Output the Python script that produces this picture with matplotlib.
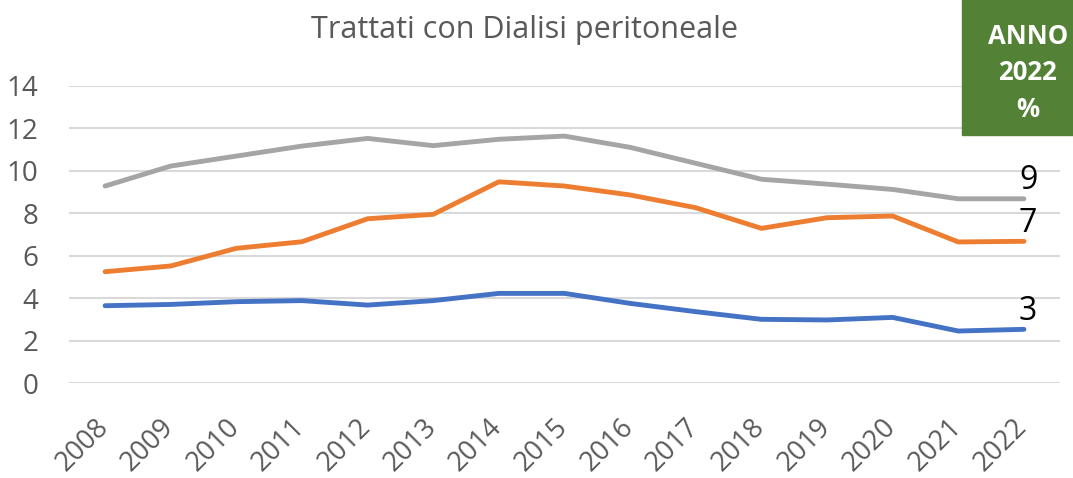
import matplotlib.pyplot as plt
from matplotlib.patches import Rectangle
from matplotlib.transforms import ScaledTranslation

plt.rcParams['font.family'] = ['Open Sans', 'DejaVu Sans']

years = [str(y) for y in range(2008, 2023)]
grey_vals = [9.28, 10.22, 10.69, 11.16, 11.52, 11.18, 11.48, 11.63, 11.10,
             10.35, 9.60, 9.37, 9.12, 8.68, 8.68]
orange_vals = [5.25, 5.52, 6.35, 6.66, 7.74, 7.95, 9.48, 9.28, 8.86,
               8.26, 7.29, 7.79, 7.87, 6.65, 6.68]
blue_vals = [3.65, 3.71, 3.84, 3.89, 3.68, 3.89, 4.23, 4.23, 3.76,
             3.37, 3.01, 2.98, 3.10, 2.46, 2.54]
yticks = [0, 2, 4, 6, 8, 10, 12, 14]

series = [
    (grey_vals, '#A5A5A5'),
    (orange_vals, '#ED7D31'),
    (blue_vals, '#4472C4'),
]

fig = plt.figure(figsize=(10.73, 4.78), dpi=100)
ax = fig.add_axes([0.0643, 0.1981, 0.9236, 0.6226])

x = list(range(len(years)))
for vals, col in series:
    ax.plot(x, vals, color=col, lw=3.5, solid_capstyle='round',
            solid_joinstyle='round', zorder=3)
    # value of the last year written above the end of each line
    ax.annotate(f"{vals[-1]:.0f}", xy=(x[-1], vals[-1]), xytext=(3, 7),
                textcoords='offset points', ha='center', va='baseline',
                fontsize=23, color='black', zorder=4)

ax.set_xlim(-0.55, len(years) - 0.45)
ax.set_ylim(0, 14)
ax.set_yticks(yticks)
ax.set_xticks(x)
ax.set_xticklabels(years, rotation=45, ha='right', va='top')
ax.tick_params(axis='y', length=0, pad=22, labelsize=20, labelcolor='#595959')
ax.tick_params(axis='x', length=0, pad=21.5, labelsize=19.5, labelcolor='#595959')
# nudge the slanted year labels a bit to the right
shift = ScaledTranslation(9 / 100, 0, fig.dpi_scale_trans)
for lbl in ax.get_xticklabels():
    lbl.set_transform(lbl.get_transform() + shift)
ax.grid(axis='y', color='#D9D9D9', lw=1.5, zorder=0)
for s in ax.spines.values():
    s.set_visible(False)

fig.text(0.489, 0.937, 'Trattati con Dialisi peritoneale', ha='center',
         va='center', fontsize=22, color='#595959')

# green badge in the top right corner
fig.patches.append(Rectangle((0.8965, 0.7176), 0.11, 0.29,
                             transform=fig.transFigure, color='#538135',
                             zorder=5))
fig.text(0.958, 0.848, 'ANNO\n2022\n%', ha='center', va='center',
         fontsize=18.5, fontweight='bold', color='white', linespacing=1.45,
         zorder=6)

fig.savefig('out.png', dpi=100)
